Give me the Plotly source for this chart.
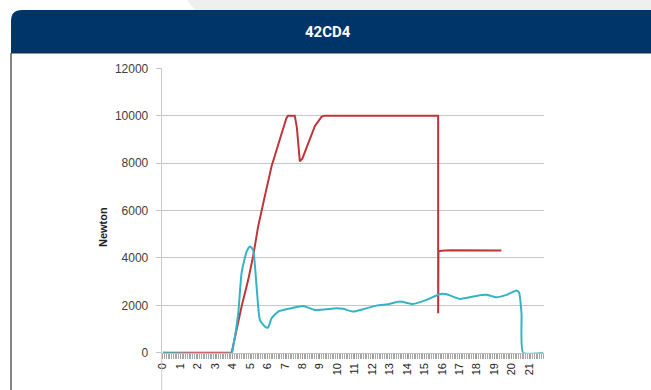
import plotly.graph_objects as go

W, H = 651, 390

# Force curves (Newton) over time
red_x = [0, 3.94, 4.51, 4.89, 5.17, 5.46, 5.84, 6.23, 6.70, 7.09, 7.18, 7.56, 7.68,
         7.85, 8.0, 8.30, 8.71, 9.09, 9.25, 15.78, 15.78, 15.80, 15.95, 16.5, 19.41]
red_y = [0, 0, 1945, 3074, 4059, 5328, 6596, 7865, 8994, 9911, 10000, 10000, 9500,
         8076, 8200, 8800, 9556, 9950, 10000, 10000, 1666, 4271, 4300, 4320, 4313]

teal_x = [0, 3.95, 4.03, 4.32, 4.51, 4.80, 4.99, 5.17, 5.37, 5.56, 5.85, 6.03, 6.23,
          6.61, 7.37, 8.04, 8.71, 9.95, 10.33, 10.9, 11.48, 12.25, 13.0, 13.58, 14.34,
          15.11, 15.87, 16.26, 17.02, 17.98, 18.55, 19.12, 19.7, 20.27, 20.42, 20.56,
          20.65, 21.8]
teal_y = [0, 0, 254, 1666, 3357, 4271, 4482, 4342, 2791, 1383, 1100, 1057, 1455,
          1734, 1877, 1975, 1805, 1877, 1850, 1734, 1835, 1987, 2059, 2156, 2059,
          2228, 2469, 2469, 2271, 2397, 2440, 2342, 2440, 2622, 2540, 1666,
          0, 0]

x_ticks = list(range(22))
y_ticks = [0, 2000, 4000, 6000, 8000, 10000, 12000]

TITLE = "42CD4"
Y_TITLE = "Newton"


def px(x):
    return x / W


def py(y):
    return 1 - y / H


fig = go.Figure()
fig.add_trace(go.Scatter(x=red_x, y=red_y, mode="lines",
                         line=dict(color="#c0353a", width=2), showlegend=False))
fig.add_trace(go.Scatter(x=teal_x, y=teal_y, mode="lines",
                         line=dict(color="#33b4c4", width=2, shape="spline", smoothing=0.5),
                         showlegend=False))

shapes = [
    # light grey tab along the very top
    dict(type="path", xref="paper", yref="paper",
         path=f"M {px(187)},{py(0)} L {px(651)},{py(0)} L {px(651)},{py(10)} L {px(195)},{py(10)} Z",
         fillcolor="#eef0f0", line=dict(width=0), layer="below"),
    # navy header band with rounded top-left corner
    dict(type="path", xref="paper", yref="paper",
         path=(f"M {px(11)},{py(53)} L {px(11)},{py(21)} "
               f"Q {px(11)},{py(10)} {px(22)},{py(10)} "
               f"L {px(651)},{py(10)} L {px(651)},{py(53)} Z"),
         fillcolor="#00356a", line=dict(width=0), layer="below"),
    dict(type="line", xref="paper", yref="paper", x0=px(11), x1=px(651), y0=py(53), y1=py(53),
         line=dict(color="#1c2b3a", width=1)),
    # panel left border
    dict(type="line", xref="paper", yref="paper", x0=px(11), x1=px(11), y0=py(53), y1=0,
         line=dict(color="#333333", width=1.2)),
    # axis line continuing under the category labels
    dict(type="line", xref="paper", yref="paper", x0=px(161.7), x1=px(161.7), y0=py(353), y1=0,
         line=dict(color="#c8c8c8", width=1)),
]

annotations = [
    dict(text=f"<b>{TITLE}</b>", xref="paper", yref="paper", x=px(328), y=py(32),
         showarrow=False, font=dict(family="Roboto", size=15, color="white", weight=900),
         xanchor="center", yanchor="middle"),
    dict(text=f"<b>{Y_TITLE}</b>", xref="paper", yref="paper", x=px(103), y=py(227),
         showarrow=False, textangle=-90, font=dict(family="Liberation Sans", size=11, color="#222222"),
         xanchor="center", yanchor="middle"),
]

fig.update_layout(
    width=W, height=H,
    margin=dict(l=0, r=0, t=0, b=0, autoexpand=False),
    paper_bgcolor="white", plot_bgcolor="white",
    shapes=shapes, annotations=annotations,
    xaxis=dict(
        domain=[px(161.7), px(544)],
        range=[-0.07, 21.85],
        automargin=False,
        tickvals=x_ticks, ticktext=[str(v) for v in x_ticks],
        tickangle=-90,
        tickfont=dict(family="Liberation Sans", size=11, color="#222222"),
        showgrid=False, zeroline=False,
        showline=True, linecolor="#bfbfbf", linewidth=1,
        ticks="outside", ticklen=5, tickcolor="#999999",
        minor=dict(tickmode="linear", tick0=0, dtick=0.1, ticks="outside", ticklen=5,
                   tickcolor="#a6a6a6", showgrid=False),
    ),
    yaxis=dict(
        domain=[py(352.7), py(68.3)],
        range=[0, 12000],
        automargin=False,
        tickvals=y_ticks, ticktext=[str(v) for v in y_ticks],
        tickfont=dict(family="Liberation Sans", size=12, color="#404040"),
        ticklabelstandoff=5,
        showgrid=True, gridcolor="#c6c6c6", gridwidth=1,
        zeroline=False,
        showline=True, linecolor="#c8c8c8", linewidth=1,
        ticks="outside", ticklen=5, tickcolor="#c6c6c6",
    ),
)

fig.write_html("out.html")
